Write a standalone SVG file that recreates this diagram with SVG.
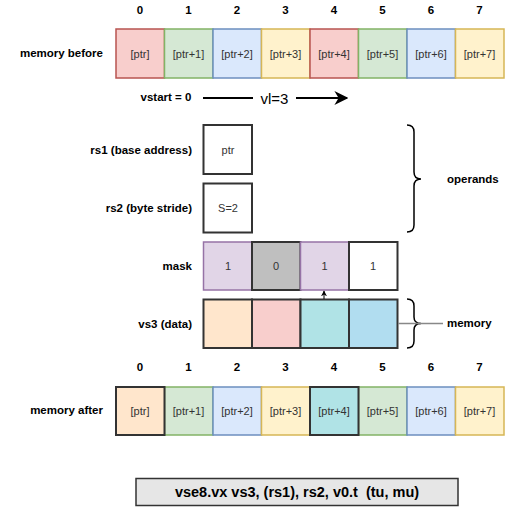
<svg xmlns="http://www.w3.org/2000/svg" width="523" height="508" viewBox="0 0 523 508">
<style>
text{font-family:"Liberation Sans",Arial,sans-serif;fill:#000}
.lbl{font-size:11.5px;font-weight:bold;text-anchor:end;dominant-baseline:central}
.idx{font-size:11.5px;font-weight:bold;text-anchor:middle;dominant-baseline:central}
.cell{font-size:11px;text-anchor:middle;dominant-baseline:central;fill:#333}
.red{fill:#f8cecc;stroke:#b85450;stroke-width:1.5}
.green{fill:#d5e8d4;stroke:#82b366;stroke-width:1.5}
.blue{fill:#dae8fc;stroke:#6c8ebf;stroke-width:1.5}
.yellow{fill:#fff2cc;stroke:#d6b656;stroke-width:1.5}
.purple{fill:#e1d5e7;stroke:#9673a6;stroke-width:1.5}
.dark{stroke:#333;stroke-width:2}
.conn{fill:none;stroke:#000;stroke-width:1.5}
</style>
<defs>
<marker id="ah" viewBox="0 0 10 10" refX="9" refY="5" markerWidth="6" markerHeight="6" orient="auto" markerUnits="userSpaceOnUse">
<path d="M0,0 L10,5 L0,10 L3,5 Z" fill="#000"/>
</marker>
<marker id="ah2" viewBox="0 0 10 10" refX="9" refY="5" markerWidth="14" markerHeight="14" orient="auto" markerUnits="userSpaceOnUse">
<path d="M0,0 L10,5 L0,10 L3,5 Z" fill="#000"/>
</marker>
</defs>
<rect width="523" height="508" fill="#fff"/>

<g id="idx-before">
<text class="idx" x="140" y="10">0</text><text class="idx" x="188.5" y="10">1</text><text class="idx" x="237" y="10">2</text><text class="idx" x="285.5" y="10">3</text><text class="idx" x="334" y="10">4</text><text class="idx" x="382.5" y="10">5</text><text class="idx" x="431" y="10">6</text><text class="idx" x="479.5" y="10">7</text>
</g>
<g id="memory-before">
<text class="lbl" x="103" y="53">memory before</text>
<rect class="red" x="116" y="29" width="48.5" height="49"/><text class="cell" x="140" y="53.5">[ptr]</text>
<rect class="green" x="164.5" y="29" width="48.5" height="49"/><text class="cell" x="188.5" y="53.5">[ptr+1]</text>
<rect class="blue" x="213" y="29" width="48.5" height="49"/><text class="cell" x="237" y="53.5">[ptr+2]</text>
<rect class="yellow" x="261.5" y="29" width="48.5" height="49"/><text class="cell" x="285.5" y="53.5">[ptr+3]</text>
<rect class="red" x="310" y="29" width="48.5" height="49"/><text class="cell" x="334" y="53.5">[ptr+4]</text>
<rect class="green" x="358.5" y="29" width="48.5" height="49"/><text class="cell" x="382.5" y="53.5">[ptr+5]</text>
<rect class="blue" x="407" y="29" width="48.5" height="49"/><text class="cell" x="431" y="53.5">[ptr+6]</text>
<rect class="yellow" x="455.5" y="29" width="48.5" height="49"/><text class="cell" x="479.5" y="53.5">[ptr+7]</text>
</g>

<g id="vstart">
<text class="idx" x="166" y="97">vstart = 0</text>
</g>

<g id="rs1">
<text class="lbl" x="192" y="150">rs1 (base address)</text>
<rect x="203.5" y="125" width="48.5" height="49" fill="#fff" stroke="#333" stroke-width="2"/>
<text class="cell" x="228" y="149.5">ptr</text>
</g>
<g id="rs2">
<text class="lbl" x="192" y="208">rs2 (byte stride)</text>
<rect x="203.5" y="183.5" width="48.5" height="49" fill="#fff" stroke="#333" stroke-width="2"/>
<text class="cell" x="228" y="208">S=2</text>
</g>
<g id="operands">
<path class="conn" d="M407,125 Q414,125 414,132 L414,172 Q414,179 421,179 Q414,179 414,186 L414,225 Q414,232 407,232"/>
<text x="447" y="179" style="font-size:11.5px;font-weight:bold;dominant-baseline:central">operands</text>
</g>

<g id="mask">
<text class="lbl" x="192" y="266">mask</text>
<rect class="purple" x="203.5" y="242" width="48.5" height="48"/><text class="cell" x="228" y="266">1</text>
<rect x="252" y="242" width="48.5" height="48" fill="#bfbfbf" stroke="#333" stroke-width="2"/><text class="cell" x="276" y="266">0</text>
<rect class="purple" x="300.5" y="242" width="48.5" height="48"/><text class="cell" x="324.5" y="266">1</text>
<rect x="349" y="242" width="48.5" height="48" fill="#fff" stroke="#333" stroke-width="2"/><text class="cell" x="373" y="266">1</text>
</g>

<g id="vs3">
<text class="lbl" x="192" y="324">vs3 (data)</text>
<rect class="dark" x="203.5" y="299.5" width="48.5" height="48.5" fill="#ffe6cc"/>
<rect class="dark" x="252" y="299.5" width="48.5" height="48.5" fill="#f8cecc"/>
<rect class="dark" x="300.5" y="299.5" width="48.5" height="48.5" fill="#b0e3e6"/>
<rect class="dark" x="349" y="299.5" width="48.5" height="48.5" fill="#b1ddf0"/>
</g>

<g id="memory">
<path class="conn" d="M407,299 Q414,299 414,306 L414,317 Q414,323.5 421,323.5 Q414,323.5 414,330 L414,341 Q414,348 407,348"/>
<text x="447" y="323" style="font-size:11.5px;font-weight:bold;dominant-baseline:central">memory</text>
</g>

<g id="idx-after">
<text class="idx" x="140" y="367">0</text><text class="idx" x="188.5" y="367">1</text><text class="idx" x="237" y="367">2</text><text class="idx" x="285.5" y="367">3</text><text class="idx" x="334" y="367">4</text><text class="idx" x="382.5" y="367">5</text><text class="idx" x="431" y="367">6</text><text class="idx" x="479.5" y="367">7</text>
</g>
<g id="memory-after">
<text class="lbl" x="103" y="410">memory after</text>
<rect class="green" x="164.5" y="387" width="48.5" height="48"/><text class="cell" x="188.5" y="411">[ptr+1]</text>
<rect class="blue" x="213" y="387" width="48.5" height="48"/><text class="cell" x="237" y="411">[ptr+2]</text>
<rect class="yellow" x="261.5" y="387" width="48.5" height="48"/><text class="cell" x="285.5" y="411">[ptr+3]</text>
<rect class="green" x="358.5" y="387" width="48.5" height="48"/><text class="cell" x="382.5" y="411">[ptr+5]</text>
<rect class="blue" x="407" y="387" width="48.5" height="48"/><text class="cell" x="431" y="411">[ptr+6]</text>
<rect class="yellow" x="455.5" y="387" width="48.5" height="48"/><text class="cell" x="479.5" y="411">[ptr+7]</text>
<rect class="dark" x="116" y="387" width="48.5" height="48" fill="#ffe6cc"/><text class="cell" x="140" y="411">[ptr]</text>
<rect class="dark" x="310" y="387" width="48.5" height="48" fill="#b0e3e6"/><text class="cell" x="334" y="411">[ptr+4]</text>
</g>

<g id="instruction">
<rect x="136" y="478.5" width="322" height="27" fill="#e6e6e6" stroke="#333" stroke-width="1.5"/>
<text x="297" y="492" style="font-size:14.5px;font-weight:bold;text-anchor:middle;dominant-baseline:central;white-space:pre" xml:space="preserve">vse8.vx vs3, (rs1), rs2, v0.t  (tu, mu)</text>
</g>

<g id="connectors">
<path d="M203,98 L253,98" fill="none" stroke="#000" stroke-width="2"/>
<path d="M296,98 L347,98" fill="none" stroke="#000" stroke-width="2" marker-end="url(#ah2)"/>
<text x="274.5" y="98" style="font-size:15px;text-anchor:middle;dominant-baseline:central">vl=3</text>
<path d="M324,299 L324,291" fill="none" stroke="#000" stroke-width="1" marker-end="url(#ah)"/>
<path d="M398,323.5 L443,323.5" fill="none" stroke="#888" stroke-width="1.5"/>
</g>
</svg>
